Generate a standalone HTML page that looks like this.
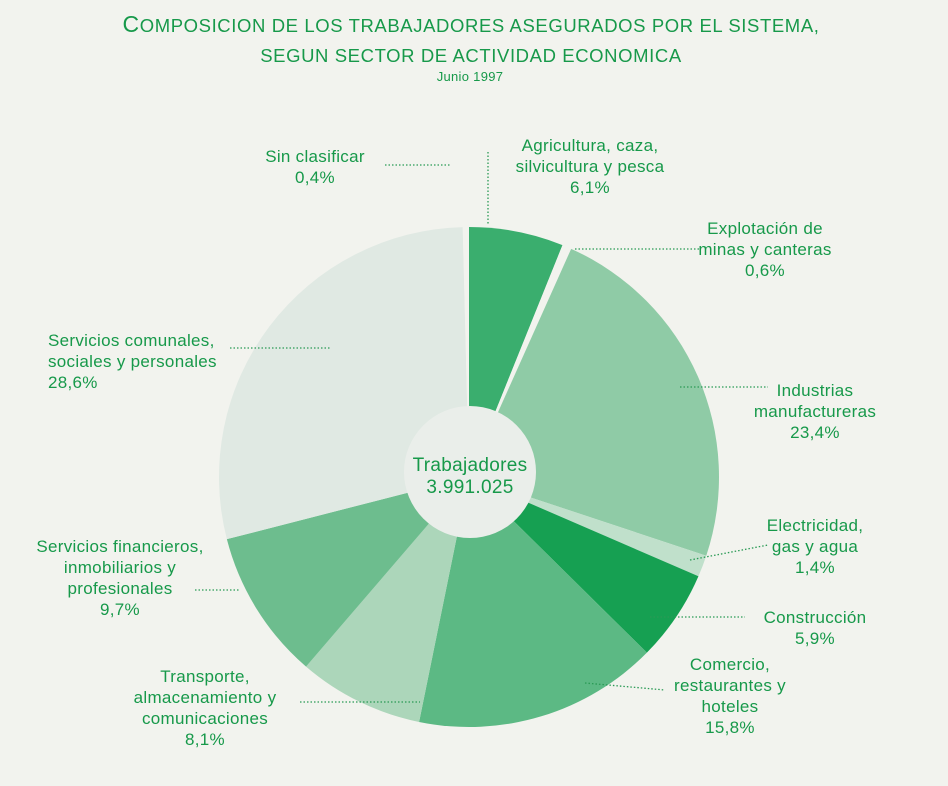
<!DOCTYPE html>
<html><head><meta charset="utf-8"><style>
body{margin:0;width:948px;height:786px;background:#f2f3ee;overflow:hidden;font-family:"Liberation Sans",sans-serif;color:#17994a;position:relative}
.t{position:absolute;font-size:17px;line-height:21px;white-space:nowrap;letter-spacing:0.3px}
.c{text-align:center}.r{text-align:right}
</style></head><body>
<div class="t c" style="left:0;width:942px;top:10px;font-size:23px;line-height:28px;letter-spacing:0.6px">C<span style="font-size:18.5px">OMPOSICION DE LOS TRABAJADORES ASEGURADOS POR EL SISTEMA,</span><br><span style="font-size:18.5px">SEGUN SECTOR DE ACTIVIDAD ECONOMICA</span></div>
<div class="t c" style="left:0;width:940px;top:66px;font-size:13px">Junio 1997</div>
<svg width="948" height="786" style="position:absolute;left:0;top:0" id="s"></svg>
<div class="t c" style="left:250px;width:130px;top:146px">Sin clasificar<br>0,4%</div>
<div class="t c" style="left:495px;width:190px;top:135px">Agricultura, caza,<br>silvicultura y pesca<br>6,1%</div>
<div class="t c" style="left:685px;width:160px;top:218px">Explotación de<br>minas y canteras<br>0,6%</div>
<div class="t c" style="left:730px;width:170px;top:380px">Industrias<br>manufactureras<br>23,4%</div>
<div class="t c" style="left:750px;width:130px;top:515px">Electricidad,<br>gas y agua<br>1,4%</div>
<div class="t c" style="left:745px;width:140px;top:607px">Construcción<br>5,9%</div>
<div class="t c" style="left:645px;width:170px;top:654px">Comercio,<br>restaurantes y<br>hoteles<br>15,8%</div>
<div class="t c" style="left:110px;width:190px;top:666px">Transporte,<br>almacenamiento y<br>comunicaciones<br>8,1%</div>
<div class="t c" style="left:5px;width:230px;top:536px">Servicios financieros,<br>inmobiliarios y<br>profesionales<br>9,7%</div>
<div class="t" style="left:48px;top:330px">Servicios comunales,<br>sociales y personales<br>28,6%</div>
<div class="t c" style="left:395px;width:150px;top:455px;font-size:19px;line-height:22px">Trabajadores<br>3.991.025</div>
<script>
var s=document.getElementById('s'),cx=469,cy=477,R=250;
var d=[[6.1,'#3aae6e'],[0.6,'#f2f3ee'],[23.4,'#8fcba6'],[1.4,'#c0e0cb'],[5.9,'#16a052'],[15.8,'#5cb984'],[8.1,'#acd6ba'],[9.7,'#6dbd8e'],[28.6,'#e0e9e3'],[0.4,'#f2f3ee']];
var a=0,h='';
d.forEach(function(x){var b=a+x[0]*3.6,r1=a*Math.PI/180,r2=b*Math.PI/180;
h+='<path d="M'+cx+','+cy+'L'+(cx+R*Math.sin(r1))+','+(cy-R*Math.cos(r1))+'A'+R+','+R+' 0 '+(b-a>180?1:0)+' 1 '+(cx+R*Math.sin(r2))+','+(cy-R*Math.cos(r2))+'Z" fill="'+x[1]+'"/>';a=b;});
h+='<circle cx="470" cy="472" r="66" fill="#eaeeea"/>';
var L=[[488,152,488,225],[575,249,700,249],[680,387,768,387],[690,560,768,545],[650,617,745,617],[585,683,665,690],[300,702,420,702],[195,590,240,590],[230,348,330,348],[385,165,450,165]];
L.forEach(function(l){h+='<line x1="'+l[0]+'" y1="'+l[1]+'" x2="'+l[2]+'" y2="'+l[3]+'" stroke="#2a9a55" stroke-width="1.3" stroke-dasharray="1.5,2"/>';});
s.innerHTML=h;
</script>
</body></html>
